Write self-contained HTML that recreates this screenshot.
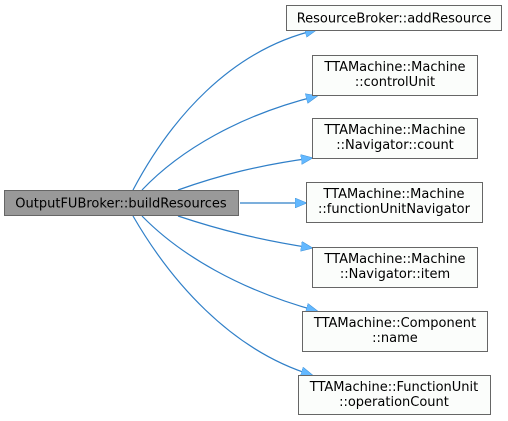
<!DOCTYPE html>
<html><head><meta charset="utf-8"><style>
html,body{margin:0;padding:0;background:#fff;width:508px;height:421px;overflow:hidden}
text{font-family:"DejaVu Sans","Liberation Sans",sans-serif;font-size:13px;fill:#000}
</style></head><body>
<svg width="508" height="421" viewBox="0 0 508 421" xmlns="http://www.w3.org/2000/svg">
<defs><marker id="a" markerWidth="12" markerHeight="10" refX="11" refY="5" orient="auto" markerUnits="userSpaceOnUse"><path d="M0,0 L12,5 L0,10 Z" fill="#63b8ff" stroke="#3d8fd6" stroke-width="0.5"/></marker></defs>
<g fill="none" stroke="#2f7fc8" stroke-width="1.2" marker-end="url(#a)">
<path d="M133,190 C170,120 230,50 316,30"/>
<path d="M142,190 C180,150 240,115 317,96"/>
<path d="M178,190 C220,175 260,165 312,158"/>
<path d="M240,203 L306,203"/>
<path d="M178,216 C220,230 260,240 312,248"/>
<path d="M142,216 C180,255 240,290 317,311"/>
<path d="M133,216 C170,280 230,350 312,375"/>
</g>
<g stroke="#666" stroke-width="1">
<rect x="4.5" y="190.5" width="234" height="25" fill="#999"/>
<rect x="286.5" y="5.5" width="215" height="25" fill="#fbfdfb"/>
<rect x="312.5" y="55.5" width="165" height="40" fill="#fbfdfb"/>
<rect x="312.5" y="118.5" width="165" height="40" fill="#fbfdfb"/>
<rect x="306.5" y="182.5" width="176" height="40" fill="#fbfdfb"/>
<rect x="312.5" y="247.5" width="165" height="40" fill="#fbfdfb"/>
<rect x="302.5" y="311.5" width="185" height="40" fill="#fbfdfb"/>
<rect x="298.5" y="375.5" width="192" height="39" fill="#fbfdfb"/>
</g>
<g text-anchor="middle">
<text x="121" y="207.5">OutputFUBroker::buildResources</text>
<text x="394" y="22.5">ResourceBroker::addResource</text>
<text x="395" y="71">TTAMachine::Machine</text><text x="395" y="86">::controlUnit</text>
<text x="395" y="134">TTAMachine::Machine</text><text x="395" y="149">::Navigator::count</text>
<text x="394" y="198">TTAMachine::Machine</text><text x="394" y="213">::functionUnitNavigator</text>
<text x="395" y="263">TTAMachine::Machine</text><text x="395" y="278">::Navigator::item</text>
<text x="395" y="327">TTAMachine::Component</text><text x="395" y="342">::name</text>
<text x="394" y="391">TTAMachine::FunctionUnit</text><text x="394" y="406">::operationCount</text>
</g>
</svg>
</body></html>
